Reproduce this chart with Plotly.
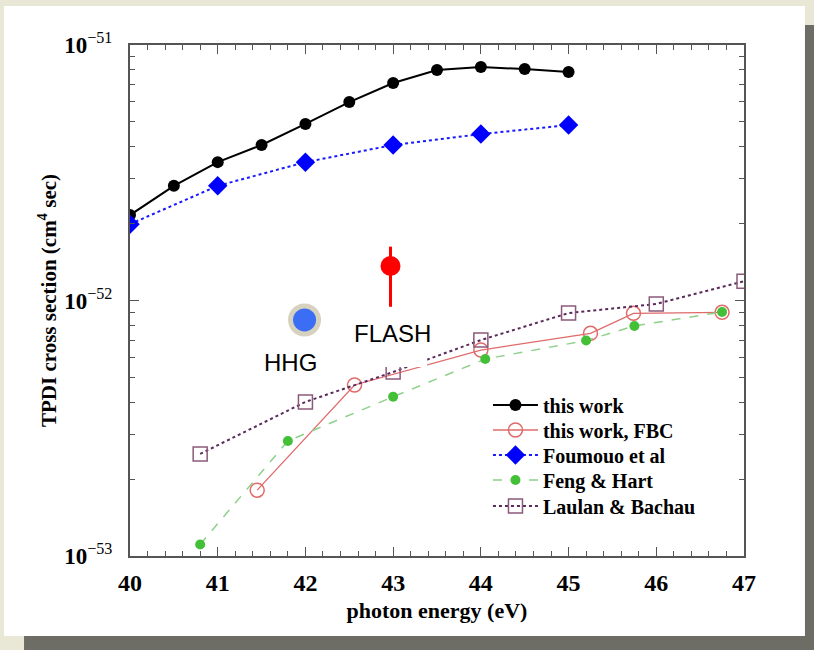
import plotly.graph_objects as go

# ---- data ----
tw_x = [40, 40.5, 41, 41.5, 42, 42.5, 43, 43.5, 44, 44.5, 45]
tw_y = [2.16e-52, 2.81e-52, 3.48e-52, 4.06e-52, 4.91e-52, 5.98e-52, 7.10e-52, 7.98e-52, 8.20e-52, 8.05e-52, 7.84e-52]

fbc_x = [41.45, 42.56, 44.0, 45.25, 45.74, 46.75]
fbc_y = [1.81e-53, 4.67e-53, 6.40e-53, 7.44e-53, 8.91e-53, 8.99e-53]

fou_x = [40, 41, 42, 43, 44, 45]
fou_y = [1.99e-52, 2.81e-52, 3.48e-52, 4.06e-52, 4.48e-52, 4.86e-52]

fh_x = [40.8, 41.8, 43.0, 44.05, 45.2, 45.75, 46.75]
fh_y = [1.11e-53, 2.82e-53, 4.20e-53, 5.90e-53, 6.97e-53, 7.95e-53, 9.02e-53]

lb_x = [40.8, 42, 43, 44, 45, 46, 47]
lb_y = [2.51e-53, 4.01e-53, 5.25e-53, 7.00e-53, 8.93e-53, 9.69e-53, 1.19e-52]

hhg_x = [41.99]
hhg_y = [8.39e-53]

flash_x = [42.97]
flash_y = [1.365e-52]
flash_err_plus = [0.26e-52]
flash_err_minus = [0.42e-52]

x_ticks = [40, 41, 42, 43, 44, 45, 46, 47]
y_ticks = [1e-53, 1e-52, 1e-51]
y_exps = ["−53", "−52", "−51"]

series_names = ["this work", "this work, FBC", "Foumouo et al", "Feng &amp; Hart", "Laulan &amp; Bachau"]

SERIF = "Liberation Serif"

fig = go.Figure()

fig.add_trace(go.Scatter(x=tw_x, y=tw_y, name=f"<b>{series_names[0]}</b>", mode="lines+markers",
                         legend="legend",
                         line=dict(color="black", width=2),
                         marker=dict(symbol="circle", size=12, color="black")))
fig.add_trace(go.Scatter(x=fbc_x, y=fbc_y, name=f"<b>{series_names[1]}</b>", mode="lines+markers",
                         legend="legend2",
                         line=dict(color="#e06a6a", width=1.3),
                         marker=dict(symbol="circle-open", size=14, color="#e06a6a", line=dict(width=1.5))))
fig.add_trace(go.Scatter(x=fou_x, y=fou_y, name=f"<b>{series_names[2]}</b>", mode="lines+markers",
                         legend="legend3",
                         line=dict(color="#1a1aff", width=2, dash="dot"),
                         marker=dict(symbol="diamond", size=15, color="#0000ff")))
fig.add_trace(go.Scatter(x=fh_x, y=fh_y, name=f"<b>{series_names[3]}</b>", mode="lines+markers",
                         legend="legend4",
                         line=dict(color="#8fd08a", width=1.5, dash="dash"),
                         marker=dict(symbol="circle", size=10, color="#44c038")))
fig.add_trace(go.Scatter(x=lb_x, y=lb_y, name=f"<b>{series_names[4]}</b>", mode="lines+markers",
                         legend="legend5",
                         line=dict(color="#5a2a5a", width=2, dash="dot"),
                         marker=dict(symbol="square-open", size=14, color="#8a5a7a", line=dict(width=1.5))))

fig.add_trace(go.Scatter(x=hhg_x, y=hhg_y, mode="markers", showlegend=False,
                         marker=dict(size=28, color="#3b6ef5", line=dict(color="#d6d2bf", width=5))))
fig.add_trace(go.Scatter(x=flash_x, y=flash_y, mode="markers", showlegend=False,
                         marker=dict(size=20, color="#ff0000"),
                         error_y=dict(type="data", symmetric=False, array=flash_err_plus,
                                      arrayminus=flash_err_minus, color="#ff0000",
                                      thickness=3, width=0)))

# page decoration: shadow and white panel
fig.add_shape(type="rect", xref="paper", yref="paper", x0=-0.1726, x1=1.13, y0=-0.22, y1=1.039,
              fillcolor="#6d6d65", line=dict(width=0), layer="below")
fig.add_shape(type="rect", xref="paper", yref="paper", x0=-0.2052, x1=1.0993, y0=-0.1566, y1=1.0763,
              fillcolor="white", line=dict(width=0), layer="below")
# white box behind FLASH label
fig.add_shape(type="rect", xref="paper", yref="paper", x0=0.358, x1=0.484, y0=0.370, y1=0.470,
              fillcolor="white", line=dict(width=0), layer="above")

fig.add_annotation(x=0.261, y=0.378, xref="paper", yref="paper", text="HHG", showarrow=False,
                   xanchor="center", yanchor="middle",
                   font=dict(family="Liberation Sans", size=24, color="black"))
fig.add_annotation(x=0.427, y=0.436, xref="paper", yref="paper", text="FLASH", showarrow=False,
                   xanchor="center", yanchor="middle",
                   font=dict(family="Liberation Sans", size=24, color="black"))

minor_y = [k * 10.0 ** e for e in (-53, -52) for k in range(2, 10)]

fig.update_xaxes(range=[40, 47], tickvals=x_ticks, ticktext=[f"<b>{v}</b>" for v in x_ticks],
                 ticks="inside", ticklen=9, tickwidth=1.3, tickcolor="#555",
                 minor=dict(dtick=0.2, ticks="inside", ticklen=5, tickwidth=1.2, tickcolor="#555", showgrid=False),
                 showline=True, linecolor="#555", linewidth=2, mirror="allticks",
                 showgrid=False, zeroline=False, ticklabelstandoff=4,
                 tickfont=dict(family=SERIF, size=24, color="black"),
                 title=dict(text="<b>photon energy (eV)</b>", font=dict(family=SERIF, size=22, color="black"),
                            standoff=8))
fig.update_yaxes(type="log", range=[-53, -51], tickvals=y_ticks,
                 ticktext=[f"<b>10</b><sup>{e}</sup>" for e in y_exps],
                 ticks="inside", ticklen=9, tickwidth=1.3, tickcolor="#555",
                 minor=dict(tickvals=minor_y, ticks="inside", ticklen=5, tickwidth=1.2, tickcolor="#555", showgrid=False),
                 showline=True, linecolor="#555", linewidth=2, mirror="allticks",
                 showgrid=False, zeroline=False, ticklabelstandoff=11,
                 tickfont=dict(family=SERIF, size=23, color="black"),
                 title=dict(text="<b>TPDI cross section (cm<sup>4</sup> sec)</b>",
                            font=dict(family=SERIF, size=21, color="black"), standoff=2))

row_centers_px = [405, 430, 455, 480, 506]
legend_common = dict(x=0.583, xanchor="left", yanchor="middle", bgcolor="rgba(0,0,0,0)",
                     borderwidth=0, itemwidth=45,
                     font=dict(family=SERIF, size=20, color="black"))
legend_layout = {}
for i, yc in enumerate(row_centers_px):
    key = "legend" if i == 0 else f"legend{i + 1}"
    legend_layout[key] = dict(legend_common, y=(556 - yc) / 511)

fig.update_layout(width=814, height=650,
                  margin=dict(l=130, r=70, t=45, b=94),
                  paper_bgcolor="#e9e7d6", plot_bgcolor="white",
                  showlegend=True, **legend_layout)

fig.write_html("out.html")
